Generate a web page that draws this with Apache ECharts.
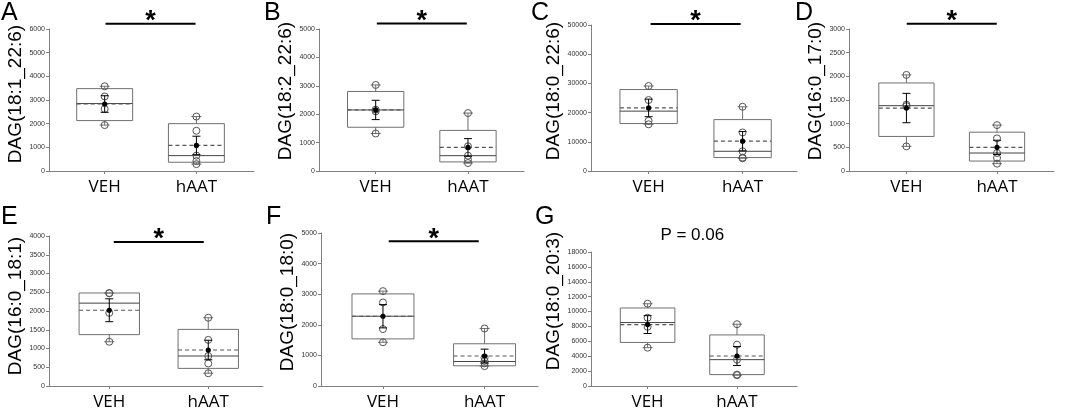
<!DOCTYPE html>
<html>
<head>
<meta charset="utf-8">
<title>DAG species, VEH vs hAAT</title>
<script src="https://cdn.jsdelivr.net/npm/echarts@6.0.0/dist/echarts.min.js"></script>
<style>
  html, body { margin: 0; padding: 0; background: #fff; }
  #main { width: 1065px; height: 411px; }
</style>
</head>
<body>
<div id="main"></div>
<script>
// ---- data ----
var panelLetters = ['A', 'B', 'C', 'D', 'E', 'F', 'G'];
var yTitles = ['DAG(18:1_22:6)', 'DAG(18:2_22:6)', 'DAG(18:0_22:6)', 'DAG(16:0_17:0)',
               'DAG(16:0_18:1)', 'DAG(18:0_18:0)', 'DAG(18:0_20:3)'];
var groups = ['VEH', 'hAAT'];
var yMax = [6000, 5000, 50000, 3000, 4000, 5000, 18000];
var yStep = [1000, 1000, 10000, 500, 500, 1000, 2000];
var sigLabels = ['*', '*', '*', '*', '*', '*', 'P = 0.06'];
var sigLevel = [6220, 5190, 50340, 3110, 3840, 4730, 20200];

// individual values
var vehPoints = [
    [3580, 3150, 2620, 1940],
    [3030, 2160, 2100, 1320],
    [29100, 24300, 17200, 16000],
    [2030, 1400, 1370, 520],
    [2480, 2470, 1950, 1180],
    [3100, 2730, 1860, 1430],
    [11050, 9170, 7950, 5150]
];
var haatPoints = [
    [2300, 1700, 650, 420, 290],
    [2040, 870, 540, 400, 280],
    [22000, 13200, 6750, 4600, 4350],
    [970, 690, 380, 275, 155],
    [1820, 1230, 800, 600, 340],
    [1880, 930, 820, 740, 650],
    [8300, 5550, 3540, 1530, 1450]
];
// box: [25th pct, median, 75th pct]
var vehBox = [
    [2130, 2850, 3480],
    [1540, 2150, 2800],
    [16250, 20500, 27900],
    [730, 1380, 1860],
    [1370, 2210, 2480],
    [1540, 2280, 3010],
    [5850, 8520, 10480]
];
var haatBox = [
    [370, 650, 2000],
    [320, 540, 1430],
    [4600, 6750, 17600],
    [210, 380, 820],
    [470, 800, 1510],
    [660, 800, 1380],
    [1530, 3540, 6860]
];
var vehMean = [2830, 2150, 21600, 1330, 2020, 2280, 8250];
var haatMean = [1080, 830, 10200, 500, 960, 980, 4030];
var vehSem = [350, 340, 3000, 310, 305, 380, 1200];
var haatSem = [390, 310, 3300, 150, 260, 225, 1270];

// ---- layout ----
var grids = [
    {left: 49, top: 29, width: 205, height: 142},
    {left: 319, top: 29, width: 205, height: 142},
    {left: 591, top: 25, width: 206, height: 146},
    {left: 849, top: 29, width: 205, height: 142},
    {left: 49, top: 236, width: 214, height: 152},
    {left: 321, top: 233, width: 217, height: 157},
    {left: 591, top: 252, width: 206, height: 137}
];
var xRange = [
    [-0.607, 1.628], [-0.614, 1.607], [-0.613, 1.579], [-0.634, 1.629],
    [-0.609, 1.553], [-0.610, 1.526], [-0.633, 1.671]
];
var titleShift = [12, 18, 14, 18, 10, 15, 36];
var letterPos = [[1, 1], [264, 1], [531, 1], [795, 1], [1, 205], [266, 205], [535, 205]];

var axisGray = '#808080';
var boxGray = '#707070';

function boxRenderer(p) {
    return function (params, api) {
        var g = api.value(0);
        var box = g === 0 ? vehBox[p] : haatBox[p];
        var pts = g === 0 ? vehPoints[p] : haatPoints[p];
        var mean = g === 0 ? vehMean[p] : haatMean[p];
        var sem = g === 0 ? vehSem[p] : haatSem[p];
        var lo = Math.min.apply(null, pts);
        var hi = Math.max.apply(null, pts);

        var x = api.coord([g, 0])[0];
        var half = api.size([0.305, 0])[0];
        var yq1 = api.coord([g, box[0]])[1];
        var ymed = api.coord([g, box[1]])[1];
        var yq3 = api.coord([g, box[2]])[1];
        var ymean = api.coord([g, mean])[1];
        var ylo = api.coord([g, lo])[1];
        var yhi = api.coord([g, hi])[1];
        var ysHi = api.coord([g, mean + sem])[1];
        var ysLo = api.coord([g, mean - sem])[1];

        var line = function (x1, y1, x2, y2, style) {
            return {type: 'line', shape: {x1: x1, y1: y1, x2: x2, y2: y2}, style: style};
        };
        var grayLine = {stroke: boxGray, lineWidth: 1};
        var blackLine = {stroke: '#000', lineWidth: 1};

        var children = [
            {type: 'rect', shape: {x: x - half, y: yq3, width: half * 2, height: yq1 - yq3},
             style: {stroke: boxGray, fill: 'none', lineWidth: 1}},
            line(x - half, ymed, x + half, ymed, {stroke: '#444', lineWidth: 1}),
            line(x - half, ymean, x + half, ymean, {stroke: '#555', lineWidth: 1.2, lineDash: [4, 3]}),
            line(x, yq3, x, yhi, grayLine),
            line(x, yq1, x, ylo, grayLine),
            line(x - 5, yhi, x + 5, yhi, grayLine),
            line(x - 5, ylo, x + 5, ylo, grayLine)
        ];
        pts.forEach(function (v) {
            children.push({type: 'circle', shape: {cx: x, cy: api.coord([g, v])[1], r: 3.5},
                           style: {stroke: '#555', fill: 'none', lineWidth: 1}});
        });
        children.push(line(x, ysHi, x, ysLo, blackLine));
        children.push(line(x - 4, ysHi, x + 4, ysHi, blackLine));
        children.push(line(x - 4, ysLo, x + 4, ysLo, blackLine));
        children.push({type: 'circle', shape: {cx: x, cy: ymean, r: 2.6}, style: {fill: '#000'}});
        return {type: 'group', children: children};
    };
}

function sigRenderer(p) {
    return function (params, api) {
        var c = api.coord([0.5, sigLevel[p]]);
        if (sigLabels[p] === '*') {
            return {type: 'group', children: [
                {type: 'line', shape: {x1: c[0] - 45, y1: c[1], x2: c[0] + 45, y2: c[1]},
                 style: {stroke: '#000', lineWidth: 2}},
                {type: 'text', x: c[0], y: c[1] - 2,
                 style: {text: '*', fontSize: 27, fontWeight: 'bold', fontFamily: 'Liberation Sans',
                         fill: '#000', align: 'center', verticalAlign: 'middle'}}
            ]};
        }
        return {type: 'text', x: c[0], y: c[1],
                style: {text: sigLabels[p], fontSize: 17, fontFamily: 'Liberation Sans', fill: '#000',
                        align: 'center', verticalAlign: 'middle'}};
    };
}

var xAxes = [], yAxes = [], series = [], graphics = [];
panelLetters.forEach(function (letter, i) {
    xAxes.push({
        gridIndex: i, type: 'value', min: xRange[i][0], max: xRange[i][1],
        axisLine: {show: true, onZero: false, lineStyle: {color: axisGray, width: 1}},
        axisTick: {show: true, customValues: [0, 1], length: 3, lineStyle: {color: axisGray}},
        axisLabel: {
            customValues: [0, 1],
            formatter: function (v) { return groups[Math.round(v)]; },
            fontSize: 17, fontFamily: 'Open Sans', color: '#000', margin: 8
        },
        splitLine: {show: false}
    });
    yAxes.push({
        gridIndex: i, type: 'value', min: 0, max: yMax[i], interval: yStep[i],
        name: yTitles[i], nameLocation: 'middle', nameGap: 24,
        nameTextStyle: {fontSize: 19, fontFamily: 'Liberation Sans', color: '#000',
                        padding: [0, 0, 0, titleShift[i]]},
        axisLine: {show: true, onZero: false, lineStyle: {color: axisGray, width: 1}},
        axisTick: {show: true, length: 3, lineStyle: {color: axisGray}},
        axisLabel: {fontSize: 7, fontFamily: 'Liberation Sans', color: '#333', margin: 4,
                    formatter: function (v) { return String(v); }},
        splitLine: {show: false}
    });
    series.push({
        type: 'custom', xAxisIndex: i, yAxisIndex: i,
        renderItem: boxRenderer(i), data: [[0], [1]], clip: false
    });
    series.push({
        type: 'custom', xAxisIndex: i, yAxisIndex: i,
        renderItem: sigRenderer(i), data: [[0]], clip: false
    });
    graphics.push({
        type: 'text', x: letterPos[i][0], y: letterPos[i][1],
        style: {text: letter, fontSize: 25, fontFamily: 'Liberation Sans', fill: '#000',
                align: 'left', verticalAlign: 'top'}
    });
});

var chart = echarts.init(document.getElementById('main'));
chart.setOption({
    animation: false,
    backgroundColor: '#fff',
    grid: grids,
    xAxis: xAxes,
    yAxis: yAxes,
    series: series,
    graphic: graphics
});
</script>
</body>
</html>
